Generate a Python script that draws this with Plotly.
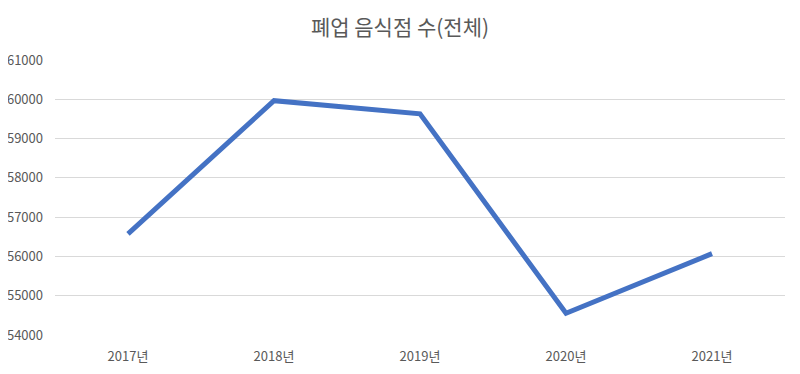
import plotly.graph_objects as go

years = ["2017년", "2018년", "2019년", "2020년", "2021년"]
closures = [56576, 59964, 59630, 54555, 56070]
title_text = "폐업 음식점 수(전체)"

font_family = "Noto Sans CJK KR, Noto Sans, sans-serif"

fig = go.Figure()
fig.add_trace(go.Scatter(
    x=years, y=closures, mode="lines",
    line=dict(color="#4472C4", width=5),
    hoverinfo="x+y",
))

fig.update_layout(
    width=800, height=374,
    margin=dict(l=47, r=23, t=52, b=47),
    paper_bgcolor="white", plot_bgcolor="white",
    showlegend=False,
    title=dict(text=title_text, x=0.49, xanchor="center", y=0.947, yanchor="middle",
               font=dict(family=font_family, size=21, color="#595959")),
    font=dict(family=font_family, color="#595959", size=13),
)
fig.update_xaxes(type="category", range=[-0.5, 4.5], showgrid=False, zeroline=False,
                 showline=False, ticks="", ticklabelstandoff=12, automargin=False,
                 tickfont=dict(size=13, color="#595959"))
fig.update_yaxes(range=[54000, 61000], dtick=1000, tick0=54000, showgrid=True,
                 gridcolor="#D9D9D9", gridwidth=1, zeroline=False, showline=False,
                 ticks="", ticklabelstandoff=11, tickformat="d", automargin=False,
                 tickfont=dict(size=13, color="#595959"))

fig.write_html("out.html")
